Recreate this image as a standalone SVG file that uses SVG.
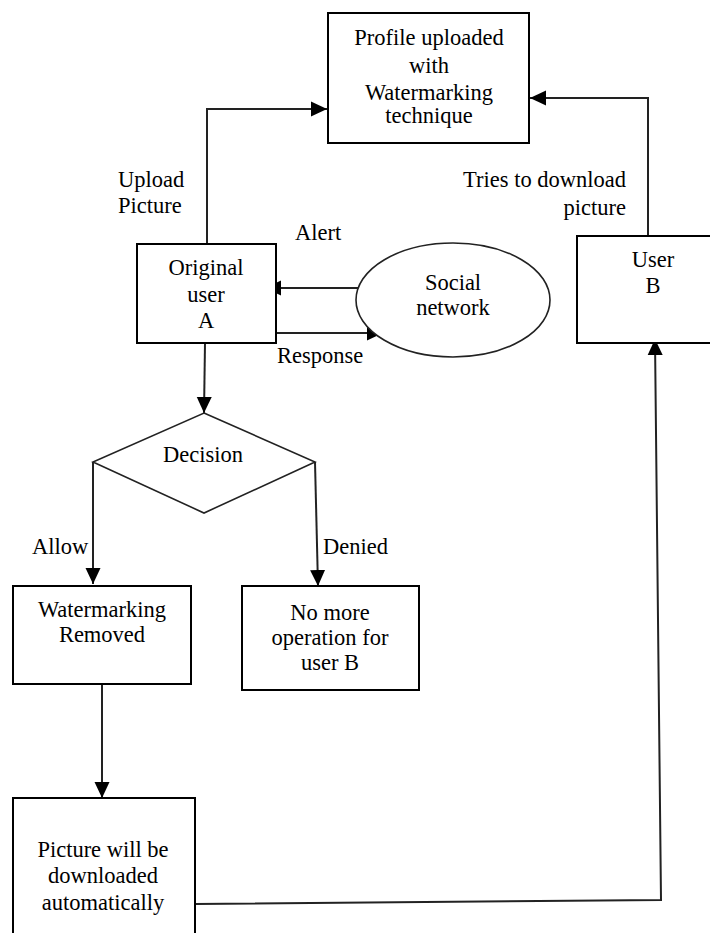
<svg xmlns="http://www.w3.org/2000/svg" width="710" height="933" viewBox="0 0 710 933">
<defs>
<marker id="ah" markerUnits="userSpaceOnUse" markerWidth="17" markerHeight="17" viewBox="0 0 17 17" refX="16" refY="8.5" orient="auto">
<path d="M0,1 L16,8.5 L0,16 Z" fill="#000"/>
</marker>
</defs>
<style>
.box{fill:#fff;stroke:#000;stroke-width:2}
.ell{fill:#fff;stroke:#222;stroke-width:1.6}
.c{fill:none;stroke:#222;stroke-width:2}
text{font-family:'Liberation Serif','DejaVu Serif',serif;font-size:22.5px;fill:#000}
.m{text-anchor:middle}
.e{text-anchor:end}
</style>
<rect width="710" height="933" fill="#fff"/>
<g id="connectors">
<polyline class="c" points="207,244 207,109 327,109" marker-end="url(#ah)"/>
<polyline class="c" points="648,236 648,98 530,98" marker-end="url(#ah)"/>
<line class="c" x1="358" y1="288" x2="265" y2="288" marker-end="url(#ah)"/>
<line class="c" x1="276" y1="333" x2="383" y2="333" marker-end="url(#ah)"/>
<line class="c" x1="205" y1="343" x2="204" y2="413" marker-end="url(#ah)"/>
<line class="c" x1="93" y1="462" x2="93" y2="584" marker-end="url(#ah)"/>
<line class="c" x1="315" y1="462" x2="318" y2="586" marker-end="url(#ah)"/>
<line class="c" x1="102" y1="684" x2="102" y2="798" marker-end="url(#ah)"/>
<polyline class="c" points="195,904 661,900 655,339" marker-end="url(#ah)"/>
</g>
<g id="labels" font-family="'Liberation Serif', 'DejaVu Serif', serif">
<text x="118" y="187">Upload</text>
<text x="118" y="213">Picture</text>
<text x="295" y="240">Alert</text>
<text x="277" y="363">Response</text>
<text class="e" x="626" y="187">Tries to download</text>
<text class="e" x="626" y="215">picture</text>
<text x="32" y="554">Allow</text>
<text x="323" y="554">Denied</text>
</g>
<g id="profile" font-family="'Liberation Serif', 'DejaVu Serif', serif">
<rect class="box" x="328" y="13" width="201" height="130"/>
<text class="m" x="429" y="45">Profile uploaded</text>
<text class="m" x="429" y="73">with</text>
<text class="m" x="429" y="100">Watermarking</text>
<text class="m" x="429" y="123">technique</text>
</g>
<g id="userA" font-family="'Liberation Serif', 'DejaVu Serif', serif">
<rect class="box" x="137" y="244" width="139" height="99"/>
<text class="m" x="206" y="275">Original</text>
<text class="m" x="206" y="302">user</text>
<text class="m" x="206" y="328">A</text>
</g>
<g id="social" font-family="'Liberation Serif', 'DejaVu Serif', serif">
<ellipse class="ell" cx="453" cy="300" rx="97" ry="57"/>
<text class="m" x="453" y="290">Social</text>
<text class="m" x="453" y="315">network</text>
</g>
<g id="userB" font-family="'Liberation Serif', 'DejaVu Serif', serif">
<rect class="box" x="577" y="236" width="140" height="107"/>
<text class="m" x="653" y="267">User</text>
<text class="m" x="653" y="293">B</text>
</g>
<g id="decision" font-family="'Liberation Serif', 'DejaVu Serif', serif">
<polygon points="204,413 315,462 204,513 93,462" fill="#fff" stroke="#222" stroke-width="1.6"/>
<text class="m" x="203" y="462">Decision</text>
</g>
<g id="removed" font-family="'Liberation Serif', 'DejaVu Serif', serif">
<rect class="box" x="13" y="586" width="178" height="98"/>
<text class="m" x="102" y="617">Watermarking</text>
<text class="m" x="102" y="642">Removed</text>
</g>
<g id="nomore" font-family="'Liberation Serif', 'DejaVu Serif', serif">
<rect class="box" x="242" y="586" width="177" height="104"/>
<text class="m" x="330" y="620">No more</text>
<text class="m" x="330" y="645">operation for</text>
<text class="m" x="330" y="670">user B</text>
</g>
<g id="download" font-family="'Liberation Serif', 'DejaVu Serif', serif">
<rect class="box" x="13" y="798" width="182" height="150"/>
<text class="m" x="103" y="857">Picture will  be</text>
<text class="m" x="103" y="883">downloaded</text>
<text class="m" x="103" y="910">automatically</text>
</g>
</svg>
